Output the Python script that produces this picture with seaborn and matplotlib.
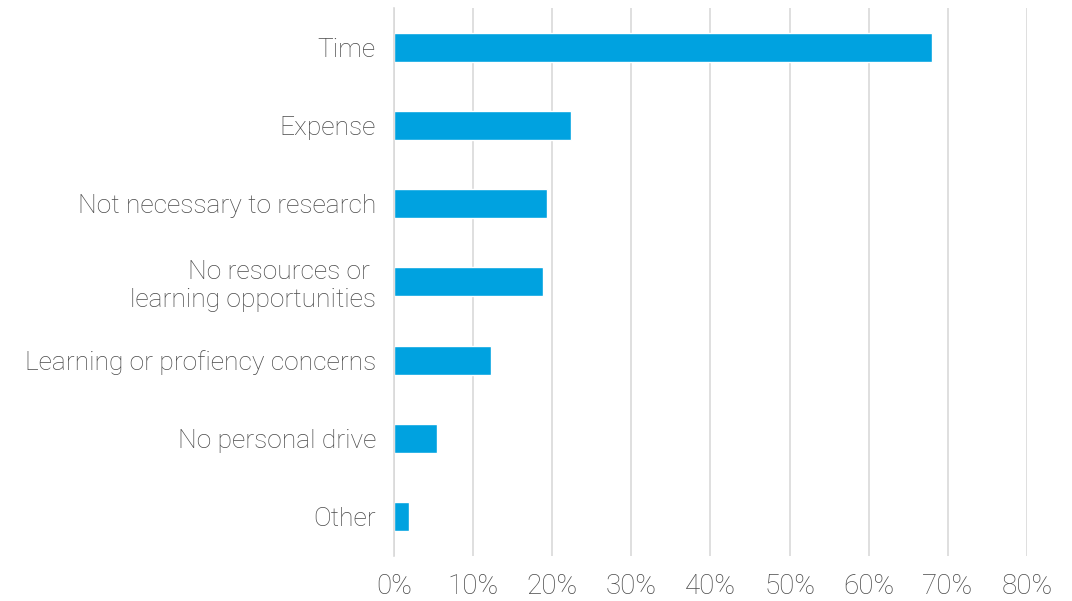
import matplotlib
matplotlib.use("Agg")
import matplotlib.pyplot as plt
import pandas as pd
import seaborn as sns
from matplotlib.ticker import PercentFormatter

# --- data --------------------------------------------------------------------
reasons = [
    "Time",
    "Expense",
    "Not necessary to research",
    "No resources or \nlearning opportunities",
    "Learning or profiency concerns",
    "No personal drive",
    "Other",
]
shares = [0.680, 0.224, 0.193, 0.188, 0.123, 0.054, 0.019]
x_ticks = [0.0, 0.1, 0.2, 0.3, 0.4, 0.5, 0.6, 0.7, 0.8]

BAR_COLOR = "#00a2e0"
TEXT_COLOR = "#4a4a4a"
GRID_COLOR = "#d9d9d9"

df = pd.DataFrame({"reason": reasons, "share": shares})

sns.set_theme(style="white")
plt.rcParams["font.family"] = ["Roboto", "DejaVu Sans"]

fig = plt.figure(figsize=(10.72, 6.01), dpi=100)
ax = fig.add_axes([0.3675, 0.075, 0.958 - 0.3675, 0.9867 - 0.075])

sns.barplot(data=df, x="share", y="reason", orient="h", color=BAR_COLOR,
            width=0.37, saturation=1, ax=ax)

ax.set_xlim(0, 0.8)
ax.set_ylim(6.5, -0.5)
ax.set_xticks(x_ticks)
ax.xaxis.set_major_formatter(PercentFormatter(1.0, decimals=0))
ax.set_xlabel("")
ax.set_ylabel("")

ax.grid(axis="x", color=GRID_COLOR, linewidth=1.2)
ax.set_axisbelow(True)
for side in ["top", "right", "bottom"]:
    ax.spines[side].set_visible(False)
ax.spines["left"].set_color(GRID_COLOR)
ax.spines["left"].set_linewidth(1.2)

ax.tick_params(axis="both", length=0, labelsize=19, labelcolor=TEXT_COLOR)
ax.tick_params(axis="x", labelsize=20, pad=12)
ax.tick_params(axis="y", pad=13)
for lbl in ax.get_xticklabels() + ax.get_yticklabels():
    lbl.set_fontweight("light")

fig.savefig("out.png", dpi=100)
